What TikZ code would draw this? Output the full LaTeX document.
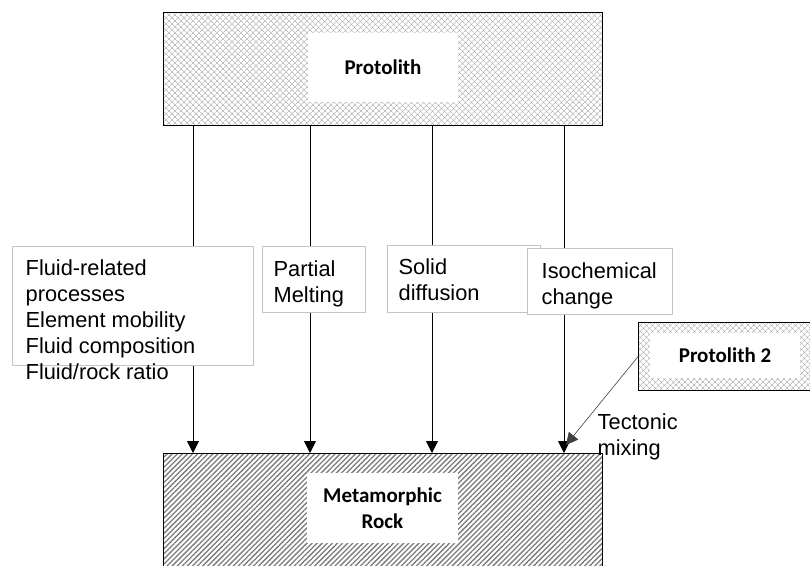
\documentclass[tikz,border=0pt]{standalone}
\usepackage{fontspec}
\setmainfont{Liberation Sans}
\newfontfamily\rockfont{Carlito}
\usetikzlibrary{patterns.meta,arrows.meta}
\definecolor{hatchgray}{HTML}{A0A0A0}
\definecolor{stripegray}{HTML}{7A7A7A}
\definecolor{framegray}{HTML}{C4C4C4}
\begin{document}
\begin{tikzpicture}[x=1pt,y=-1pt,
  crossbox/.style={draw=black, line width=1.3pt, anchor=north west, inner sep=0pt,
    preaction={fill=white},
    preaction={pattern={Lines[angle=45,distance=4pt,line width=0.6pt]},pattern color=hatchgray},
    preaction={pattern={Lines[angle=-45,distance=4pt,line width=0.6pt]},pattern color=hatchgray}},
  stripebox/.style={draw=black, line width=1.3pt, anchor=north west, inner sep=0pt,
    preaction={fill=white},
    preaction={pattern={Lines[angle=45,distance=3.6pt,line width=1.3pt]},pattern color=stripegray}},
  whitelabel/.style={fill=white, anchor=center, inner sep=0pt, align=center,
    font=\rockfont\bfseries\fontsize{21}{26}\selectfont},
  procbox/.style={draw=framegray, line width=0.8pt, fill=white, anchor=north west, inner sep=0pt},
  proctext/.style={anchor=north west, inner sep=0pt, align=left,
    font=\fontsize{21.8}{26}\selectfont},
  flow/.style={draw=black, line width=0.9pt, -{Triangle[width=12pt,length=12pt]}}
]
\clip (0,0) rectangle (810,565);

% source and product rocks
\node[crossbox, minimum width=438.7pt, minimum height=113pt] (protolith) at (163,12) {};
\node[whitelabel, minimum width=150pt, minimum height=69pt] (protolithlbl) at (383,67.5) {Protolith};
\node[stripebox, minimum width=438.7pt, minimum height=140pt] (rock) at (163,453) {};
\node[whitelabel, minimum width=151pt, minimum height=70pt] (rocklbl) at (382.5,508) {Metamorphic\\Rock};
\node[crossbox, minimum width=174pt, minimum height=68pt] (protolith2) at (638,322) {};
\node[whitelabel, minimum width=150pt, minimum height=45pt] (protolith2lbl) at (725,355.5) {Protolith 2};

% process paths
\coordinate (p1) at (193,0);
\coordinate (p2) at (310,0);
\coordinate (p3) at (432,0);
\coordinate (p4) at (564,0);
\draw[flow] (protolith.south -| p1) -- (rock.north -| p1);
\draw[flow] (protolith.south -| p2) -- (rock.north -| p2);
\draw[flow] (protolith.south -| p3) -- (rock.north -| p3);
\draw[flow] (protolith.south -| p4) -- (rock.north -| p4);

\coordinate (mixend) at (566,445);
\draw[flow, draw=black!75, line width=0.6pt] (protolith2.west) -- (mixend);

% process labels
\node[procbox, minimum width=241pt, minimum height=119pt] (fluidbox) at (12,246) {};
\node[procbox, minimum width=103pt, minimum height=66pt] (meltbox) at (262,246) {};
\node[procbox, minimum width=153pt, minimum height=67pt] (diffbox) at (387,245) {};
\node[procbox, minimum width=145pt, minimum height=66pt] (isobox) at (527,248) {};

\node[proctext] (fluidtxt) at (25.5,259) {Fluid-related\\processes\\Element mobility\\Fluid composition\\Fluid/rock ratio};
\node[proctext] (melttxt) at (273.5,260) {Partial\\Melting};
\node[proctext] (difftxt) at (398.5,258) {Solid\\diffusion};
\node[proctext] (isotxt) at (541.5,262) {Isochemical\\change};
\node[proctext] (mixtxt) at (597.5,413) {Tectonic\\mixing};
\end{tikzpicture}
\end{document}
